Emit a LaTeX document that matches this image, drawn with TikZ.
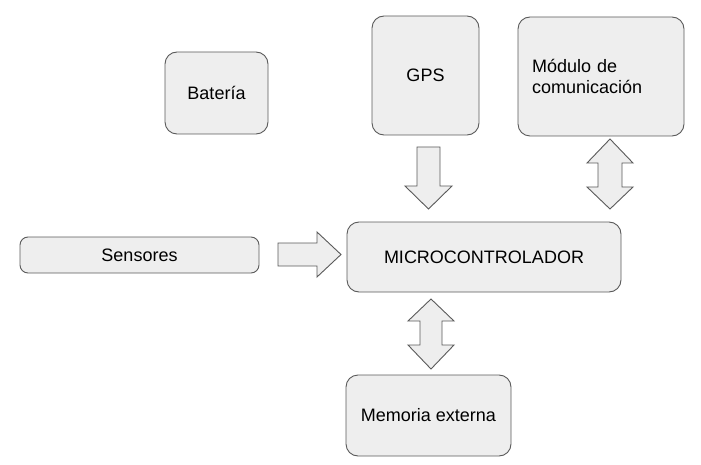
\documentclass[tikz,border=0pt]{standalone}
\usepackage{fontspec}
\setmainfont{Liberation Sans}
\usetikzlibrary{calc}
\definecolor{boxfill}{HTML}{EEEEEE}
\definecolor{boxline}{HTML}{5A5A5A}

\begin{document}
\begin{tikzpicture}[
  x=1pt, y=-1pt,
  box/.style = {draw=boxline, fill=boxfill, line width=0.9pt, rounded corners=12pt,
                inner sep=0pt, font=\fontsize{18}{20.5}\selectfont},
  fat/.style = {draw=boxline, fill=boxfill, line width=0.9pt, line join=miter},
]

  \useasboundingbox (0,0) rectangle (701,465);

  % blocks
  \node[box, minimum width=103pt, minimum height=82pt] (bateria) at (216.5,93) {Batería};
  \node[box, minimum width=107pt, minimum height=119pt] (gps) at (425.5,75.5) {GPS};
  \node[box, minimum height=119pt, text width=138pt, inner xsep=14pt, align=left]
    (modulo) at (601,76.5) {Módulo de\\comunicación};
  \node[box, rounded corners=8pt, minimum width=239pt, minimum height=36pt]
    (sensores) at (139.5,255) {Sensores};
  \node[box, minimum width=274pt, minimum height=70pt] (micro) at (484,257) {MICROCONTROLADOR};
  \node[box, minimum width=165pt, minimum height=81pt] (memoria) at (428.5,415.5) {Memoria externa};

  % arrow ends
  \coordinate (g0) at (428.5,147);
  \coordinate (g1) at (428.5,209);
  \coordinate (m0) at (610,139);
  \coordinate (m1) at (610,209);
  \coordinate (s0) at (278,254.5);
  \coordinate (s1) at (341,254.5);
  \coordinate (e0) at (431,299);
  \coordinate (e1) at (431,369);

  % gps -> micro
  \draw[fat] ($(g0)+(-11.5,0)$) -- ($(g0)+(11.5,0)$) -- ($(g1)+(11.5,-23)$)
    -- ($(g1)+(23.5,-23)$) -- (g1) -- ($(g1)+(-23.5,-23)$) -- ($(g1)+(-11.5,-23)$) -- cycle;

  % modulo <-> micro
  \draw[fat] (m0) -- ($(m0)+(23,24)$) -- ($(m0)+(12,24)$) -- ($(m1)+(12,-22)$)
    -- ($(m1)+(23,-22)$) -- (m1) -- ($(m1)+(-23,-22)$) -- ($(m1)+(-12,-22)$)
    -- ($(m0)+(-12,24)$) -- ($(m0)+(-23,24)$) -- cycle;

  % sensores -> micro
  \draw[fat] ($(s0)+(0,-11.5)$) -- ($(s1)+(-24,-11.5)$) -- ($(s1)+(-24,-22.5)$)
    -- (s1) -- ($(s1)+(-24,22.5)$) -- ($(s1)+(-24,11.5)$) -- ($(s0)+(0,11.5)$) -- cycle;

  % micro <-> memoria
  \draw[fat] (e0) -- ($(e0)+(23,22)$) -- ($(e0)+(11,22)$) -- ($(e1)+(11,-24)$)
    -- ($(e1)+(23,-24)$) -- (e1) -- ($(e1)+(-23,-24)$) -- ($(e1)+(-11,-24)$)
    -- ($(e0)+(-11,22)$) -- ($(e0)+(-23,22)$) -- cycle;

\end{tikzpicture}
\end{document}
